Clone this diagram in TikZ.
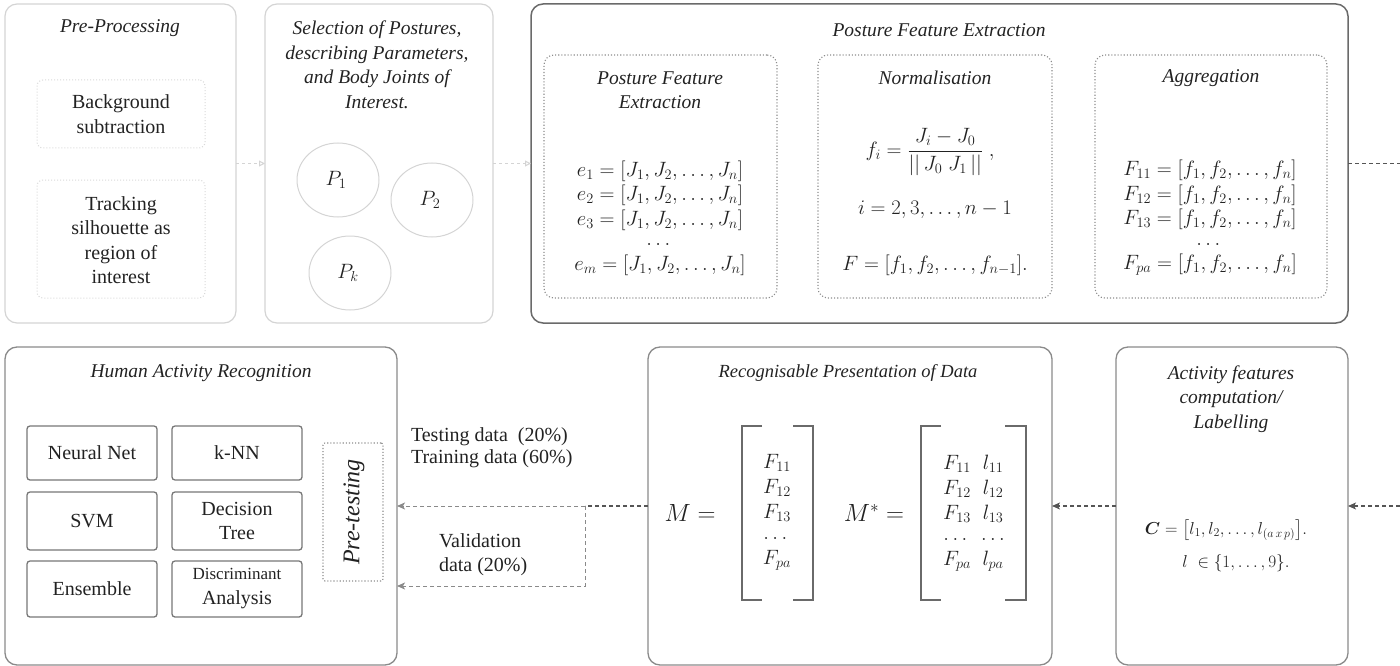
\documentclass[tikz,border=0pt]{standalone}
\usepackage{amsmath}
\usepackage{fontspec}
\setmainfont{Liberation Serif}
\usetikzlibrary{arrows.meta,shapes.geometric}
\definecolor{lightbd}{HTML}{D4D4D4}
\definecolor{lightdot}{HTML}{D8D8D8}
\definecolor{darkbd}{HTML}{6A6A6A}
\definecolor{midbd}{HTML}{8A8A8A}
\definecolor{dotbd}{HTML}{8C8C8C}
\definecolor{algbd}{HTML}{777777}
\definecolor{darkarr}{HTML}{555555}
\definecolor{lightarr}{HTML}{8A8A8A}
\definecolor{txt}{HTML}{222222}
\begin{document}
\begin{tikzpicture}[x=1pt,y=-1pt,
 every node/.style={inner sep=0pt,outer sep=0pt,text=txt},
 tf/.style={font=\fontsize{20}{24.5}\selectfont, align=center},
 ttl/.style={font=\itshape\fontsize{19.5}{24.5}\selectfont, align=center},
 lbox/.style={draw=lightbd, line width=1.2pt, rounded corners=12pt, rectangle},
 dbox/.style={draw=darkbd, line width=1.5pt, rounded corners=12pt, rectangle},
 mbox/.style={draw=midbd, line width=1.3pt, rounded corners=12pt, rectangle},
 ldot/.style={draw=lightdot, line width=1pt, dotted, rounded corners=6pt, rectangle},
 ddot/.style={draw=dotbd, line width=1.1pt, dotted, rounded corners=10pt, rectangle},
 algbox/.style={draw=algbd, line width=1.3pt, rounded corners=3pt, rectangle, tf},
 circ/.style={draw=lightbd, line width=1pt, ellipse, minimum width=82pt, minimum height=74pt},
 larrow/.style={draw=lightbd, line width=1pt, dashed, -{Triangle[open,length=6pt,width=6pt]}},
 darrow/.style={draw=darkarr, line width=1.2pt, dash pattern=on 4pt off 3pt, -{Stealth[length=8pt,width=7pt,inset=2pt]}},
 dline/.style={draw=darkarr, line width=1.2pt, dash pattern=on 4pt off 3pt},
 larr2/.style={draw=lightarr, line width=1pt, dash pattern=on 4pt off 3pt, -{Stealth[length=8pt,width=7pt,inset=2pt]}},
 mathf/.style={font=\fontsize{20}{24}\selectfont, align=center},
]
\useasboundingbox (0,0) rectangle (1400,666);

% ---------- top row ----------
\node[lbox, minimum width=231pt, minimum height=319pt] (pre) at (120.5,163.5) {};
\node[ttl] (preT) at (120,28) {Pre-Processing};
\node[ldot, minimum width=168pt, minimum height=68pt] (bg) at (121,114) {};
\node[tf] (bgT) at (121,114) {Background\\subtraction};
\node[ldot, minimum width=168pt, minimum height=118pt] (trk) at (121,239) {};
\node[tf] (trkT) at (121,240) {Tracking\\silhouette as\\region of\\interest};

\node[lbox, minimum width=228pt, minimum height=319pt] (sel) at (379,163.5) {};
\node[ttl] (selT) at (377,65) {Selection of Postures,\\describing Parameters,\\and Body Joints of\\Interest.};
\node[circ] (p1) at (338,180) {};
\node[font=\fontsize{22}{24}\selectfont] (p1T) at (336,180) {$P_1$};
\node[circ] (p2) at (432,200) {};
\node[font=\fontsize{22}{24}\selectfont] (p2T) at (430,200) {$P_2$};
\node[circ] (pk) at (350,273) {};
\node[font=\fontsize{22}{24}\selectfont] (pkT) at (348,273) {$P_k$};

\node[dbox, minimum width=817pt, minimum height=319pt] (pfe) at (939.5,163.5) {};
\node[ttl] (pfeT) at (939,30) {Posture Feature Extraction};

\node[ddot, minimum width=233pt, minimum height=243pt] (pf1) at (660.5,176.5) {};
\node[ttl] (pf1T) at (660,90) {Posture Feature\\Extraction};
\node[mathf, font=\fontsize{20}{24.5}\selectfont] (pf1M) at (660,218) {%
$e_1=[J_1,J_2,\dots,J_n]$\\$e_2=[J_1,J_2,\dots,J_n]$\\$e_3=[J_1,J_2,\dots,J_n]$\\[-4pt]$\dots$\\$e_m=[J_1,J_2,\dots,J_n]$};

\node[ddot, minimum width=234pt, minimum height=243pt] (pf2) at (935,176.5) {};
\node[ttl] (pf2T) at (935,78) {Normalisation};
\node[mathf] (nf1) at (930,152) {$f_i=\dfrac{J_i-J_0}{||\,J_0\;J_1\,||}\;,$};
\node[mathf] (nf2) at (935,210) {$i=2,3,\dots,n-1$};
\node[mathf] (nf3) at (935,265) {$F=[f_1,f_2,\dots,f_{n-1}].$};

\node[ddot, minimum width=232pt, minimum height=243pt] (pf3) at (1211,176.5) {};
\node[ttl] (pf3T) at (1211,78) {Aggregation};
\node[mathf, font=\fontsize{20}{24.5}\selectfont] (agM) at (1210,218) {%
$F_{11}=[f_1,f_2,\dots,f_n]$\\$F_{12}=[f_1,f_2,\dots,f_n]$\\$F_{13}=[f_1,f_2,\dots,f_n]$\\[-4pt]$\dots$\\$F_{pa}=[f_1,f_2,\dots,f_n]$};

\coordinate (outR) at (1400,163.5);
\draw[larrow] (pre.east) -- (sel.west);
\draw[larrow] (sel.east) -- (pfe.west);
\draw[dline] (pfe.east) -- (outR);

% ---------- bottom row ----------
\node[mbox, minimum width=392pt, minimum height=318pt] (har) at (201,506) {};
\node[ttl] (harT) at (201,373) {Human Activity Recognition};
\node[algbox, minimum width=130pt, minimum height=54pt] (nn) at (92,453) {Neural Net};
\node[algbox, minimum width=130pt, minimum height=54pt] (knn) at (237,453) {k-NN};
\node[algbox, minimum width=130pt, minimum height=58pt] (svm) at (92,521) {SVM};
\node[algbox, minimum width=130pt, minimum height=58pt, font=\fontsize{20}{24}\selectfont] (dt) at (237,521) {Decision\\Tree};
\node[algbox, minimum width=130pt, minimum height=56pt] (ens) at (92,589) {Ensemble};
\node[algbox, minimum width=130pt, minimum height=56pt, font=\fontsize{20}{25}\selectfont] (da) at (237,589) {{\fontsize{17}{20}\selectfont Discriminant}\\Analysis};
\node[ddot, rounded corners=2pt, minimum width=60pt, minimum height=138pt] (pt) at (353,512) {};
\node[rotate=90, font=\itshape\fontsize{24}{26}\selectfont] (ptT) at (354,512) {Pre-testing};

\node[mbox, minimum width=404pt, minimum height=318pt] (rpd) at (850,506) {};
\node[ttl, font=\itshape\fontsize{18.5}{22}\selectfont] (rpdT) at (848,373) {Recognisable Presentation of Data};
\node[font=\fontsize{25}{28}\selectfont] (mEq) at (690,513) {$M=$};
\node[mathf, font=\fontsize{20}{25}\selectfont] (mV) at (777,512) {$F_{11}$\\$F_{12}$\\$F_{13}$\\[-4pt]$\dots$\\$F_{pa}$};
\draw[draw=darkbd, line width=1.2pt] (762,426) -- (742,426) -- (742,600) -- (762,600);
\draw[draw=darkbd, line width=1.2pt] (793,426) -- (813,426) -- (813,600) -- (793,600);
\node[font=\fontsize{25}{28}\selectfont] (msEq) at (874,513) {$M^{*}=$};
\node[font=\fontsize{20}{25}\selectfont] (msV) at (974,512) {%
$\begin{array}{@{}c@{\hspace{10pt}}c@{}}F_{11}&l_{11}\\F_{12}&l_{12}\\F_{13}&l_{13}\\[-4pt]\dots&\dots\\F_{pa}&l_{pa}\end{array}$};
\draw[draw=darkbd, line width=1.2pt] (941,426) -- (921,426) -- (921,600) -- (941,600);
\draw[draw=darkbd, line width=1.2pt] (1005,426) -- (1026,426) -- (1026,600) -- (1005,600);

\node[mbox, minimum width=232pt, minimum height=318pt] (act) at (1232,506) {};
\node[ttl] (actT) at (1231,399) {Activity features\\computation/\\Labelling};
\node[mathf, font=\fontsize{18}{22}\selectfont] (cEq) at (1226,530) {$\boldsymbol{C}=\big[l_1,l_2,\dots,l_{(a\,x\,p)}\big].$};
\node[mathf, font=\fontsize{19}{22}\selectfont] (lEq) at (1236,563) {$l\;\in\{1,\dots,9\}.$};

% connectors
\coordinate (inR) at (1400,506);
\coordinate (split) at (585,506);
\coordinate (valc) at (585,586);
\node[tf, align=left, anchor=west, font=\fontsize{20}{22}\selectfont] (testL) at (411,448) {Testing data~~(20\%)\\Training data (60\%)};
\node[tf, align=left, anchor=west, font=\fontsize{20}{24}\selectfont] (valL) at (439,555) {Validation\\data (20\%)};

\draw[darrow] (inR) -- (act.east);
\draw[darrow] (act.west) -- (rpd.east);
\draw[dline] (rpd.west) -- (split);
\draw[larr2] (split) -- (har.east |- split);
\draw[larr2] (split) -- (valc) -- (har.east |- valc);
\end{tikzpicture}
\end{document}
